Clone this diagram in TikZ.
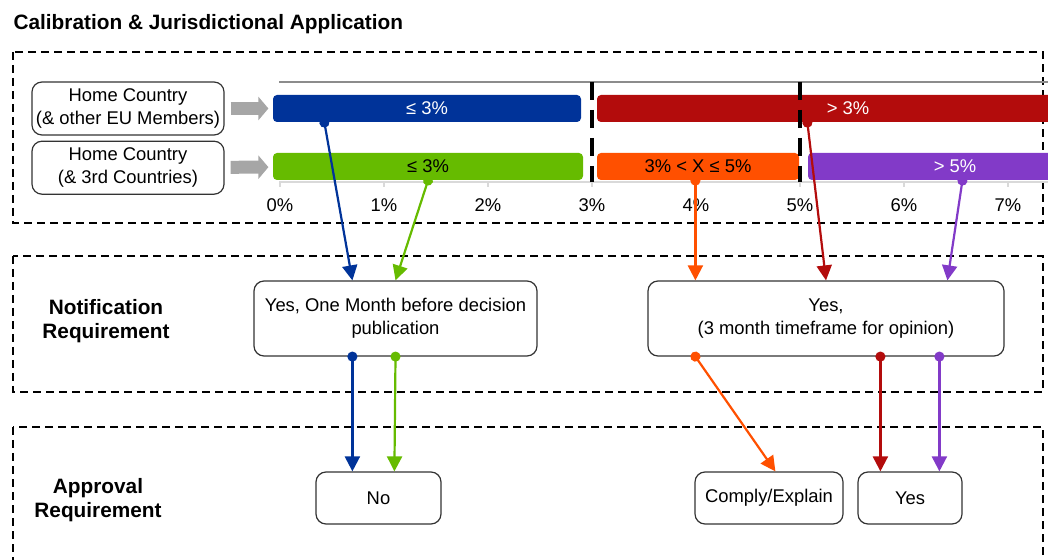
\documentclass[tikz,border=0pt]{standalone}
\usepackage{fontspec}
\setmainfont{Liberation Sans}
\usepackage{xcolor}
\usepackage{tikz}
\usetikzlibrary{arrows.meta}
\usetikzlibrary{calc}
\usetikzlibrary{positioning}

\definecolor{euBlue}{RGB}{0,51,153}
\definecolor{tcGreen}{RGB}{102,187,0}
\definecolor{overRed}{RGB}{179,12,12}
\definecolor{midOrange}{RGB}{255,80,0}
\definecolor{highPurple}{RGB}{130,58,200}
\definecolor{feedGrey}{RGB}{166,166,166}

\begin{document}
\begin{tikzpicture}[x=0.5pt,y=-0.5pt,semithick,font=\fontsize{9.2}{11.5}\selectfont]
	\tikzstyle{region}=[line width=1.2pt, dash pattern=on 4pt off 2.5pt]
	\tikzstyle{split}=[line width=1.8pt, dash pattern=on 9pt off 5pt]
	\tikzstyle{box}=[draw=black!80, line width=0.6pt, rounded corners=5pt, align=center, inner sep=2pt, fill=white]
	\tikzstyle{pctbar}=[rounded corners=2pt, minimum height=13.5pt, inner sep=0pt]
	\tikzstyle{rowlabel}=[align=center, font=\fontsize{10.4}{12}\selectfont\bfseries]
	\tikzstyle{feed}=[line width=6.5pt, draw=feedGrey, -{Triangle[length=5pt,width=11.5pt]}, shorten <=3pt, shorten >=2pt]
	\tikzstyle{link}=[line width=1.1pt, {Circle[length=5pt]}-{Triangle[length=7.5pt,width=7.5pt]}, shorten <=-2.5pt]

	\useasboundingbox (0,0) rectangle (1048,560);
	\clip (0,0) rectangle (1048,560);

	\node[anchor=west, inner sep=0pt, font=\fontsize{10.4}{12}\selectfont\bfseries] (title) at (13,24) {Calibration \& Jurisdictional Application};

	% the three bands
	\draw[region] (13,52) rectangle (1043,223);
	\draw[region] (13,256) rectangle (1043,392);
	\draw[region] (13,427) rectangle (1043,600);

	% percentage scale
	\draw[black!45] (279,82) -- (1048,82);
	\draw[black!15, line width=0.8pt] (279,182) -- (1048,182);
	\foreach \i in {0,...,7} {
		\draw[black!15, line width=0.8pt] (280+104*\i,182) -- ++(0,5);
		\node (tick\i) at (280+104*\i,205) {\i\%};
	}

	\node[box, minimum width=96pt, minimum height=26.5pt] (homeEU) at (128,108.5) {Home Country\\(\& other EU Members)};
	\node[box, minimum width=96pt, minimum height=26.5pt, below=2.5pt of homeEU] (homeTC) {Home Country\\(\& 3rd Countries)};

	\node[pctbar, fill=euBlue, text=white, minimum width=154pt] (lowEU) at (427,108.5) {≤ 3\%};
	\node[pctbar, fill=overRed, text=white, minimum width=251pt] (overEU) at (848,108.5) {> 3\%};
	\node[pctbar, fill=tcGreen, minimum width=155pt] (lowTC) at (428,166.5) {≤ 3\%};
	\node[pctbar, fill=midOrange, minimum width=101pt] (midTC) at (698,166.5) {3\% < X ≤ 5\%};
	\node[pctbar, fill=highPurple, text=white, minimum width=147pt] (highTC) at (955,166.5) {> 5\%};

	\draw[split] (592,82) -- (592,182);
	\draw[split] (800,82) -- (800,182);

	\node[rowlabel] (notifLabel) at (106,321) {Notification\\Requirement};
	\node[box, minimum width=141.5pt, minimum height=37.5pt] (nMonth) at (395.5,318.5) {Yes, One Month before decision\\publication};
	\node[box, minimum width=178pt, minimum height=37.5pt] (nOpinion) at (826,318.5) {Yes,\\(3 month timeframe for opinion)};

	\node[rowlabel] (apprLabel) at (98,500) {Approval\\Requirement};
	\node[box, minimum width=62.5pt, minimum height=26pt] (aNo) at (378.5,498) {No};
	\node[box, minimum width=74pt, minimum height=26pt] (aComply) at (769,498) {Comply/Explain};
	\node[box, minimum width=52pt, minimum height=26pt] (aYes) at (910,498) {Yes};

	\path
		(homeEU) edge[feed] (lowEU)
		(homeTC) edge[feed] (lowTC)
		($(lowEU.south west)+(52,0)$) edge[link, euBlue] ($(nMonth.north west)+(99,0)$)
		(lowTC.south) edge[link, tcGreen] (nMonth.north)
		($(midTC.south west)+(99,0)$) edge[link, midOrange] ($(nOpinion.north west)+(48,0)$)
		($(overEU.south west)+(211,0)$) edge[link, overRed] (nOpinion.north)
		($(highTC.south west)+(155,0)$) edge[link, highPurple] ($(nOpinion.north west)+(300,0)$)
		($(nMonth.south west)+(99,0)$) edge[link, euBlue] ($(aNo.north west)+(37,0)$)
		(nMonth.south) edge[link, tcGreen] ($(aNo.north west)+(79,0)$)
		($(nOpinion.south west)+(48,0)$) edge[link, midOrange] ($(aComply.north west)+(81,0)$)
		($(nOpinion.south west)+(233,0)$) edge[link, overRed] ($(aYes.north west)+(23,0)$)
		($(nOpinion.south west)+(292,0)$) edge[link, highPurple] ($(aYes.north west)+(82,0)$);
\end{tikzpicture}
\end{document}
